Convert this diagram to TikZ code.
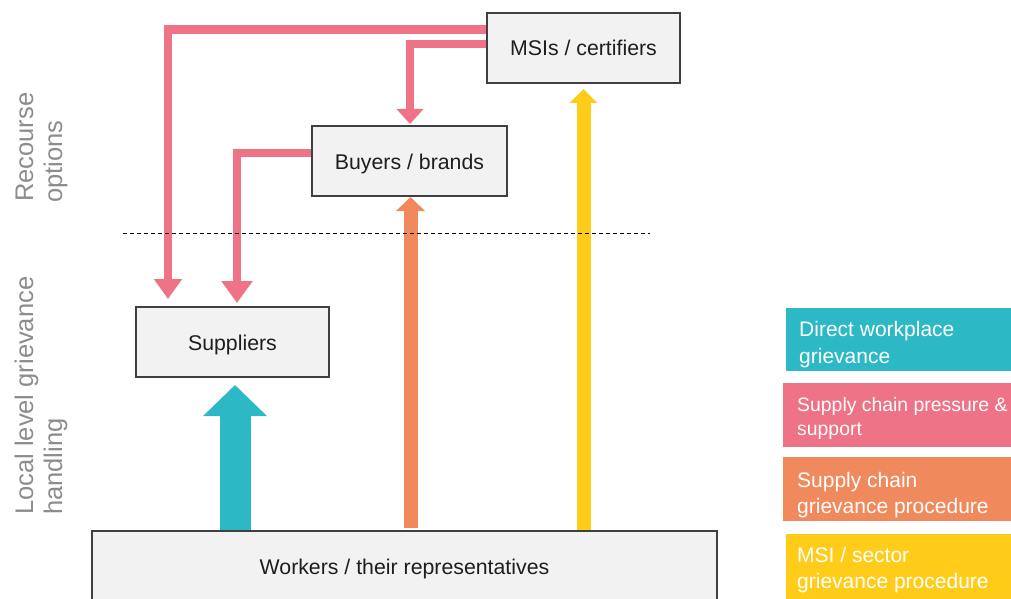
\documentclass[tikz,border=0pt]{standalone}
\usepackage{fontspec}
\setmainfont{Liberation Sans}
\usetikzlibrary{arrows.meta,calc}
\definecolor{tealc}{RGB}{44,184,197}
\definecolor{pinkc}{RGB}{238,115,135}
\definecolor{orangec}{RGB}{240,138,93}
\definecolor{yellowc}{RGB}{255,204,26}
\definecolor{boxfill}{RGB}{242,242,242}
\definecolor{boxline}{RGB}{64,64,64}
\definecolor{labgray}{RGB}{140,140,140}
\definecolor{txt}{RGB}{30,30,30}
\pgfdeclarelayer{bg}
\pgfdeclarelayer{arr}
\pgfsetlayers{bg,arr,main}
\begin{document}
\begin{tikzpicture}[x=1pt,y=-1pt,
  entity/.style={draw=boxline, line width=1.3pt, fill=boxfill, minimum width=193pt, minimum height=70pt, inner sep=0pt, text height=16pt, text depth=0pt, font=\fontsize{21.3}{25}\selectfont, text=txt},
  legbox/.style={fill=#1, draw=none, inner sep=0pt, anchor=north west},
  legtext/.style={text=white, anchor=base west, inner sep=0pt, font=\fontsize{21}{25}\selectfont},
  sidelab/.style={text=labgray, rotate=90, anchor=base west, inner sep=0pt, font=\fontsize{25.5}{30}\selectfont},
  pk/.style={draw=pinkc, line width=8.5pt},
]
\useasboundingbox (0,0) rectangle (1011,599);
\begin{pgfonlayer}{bg}
\fill[white] (0,0) rectangle (1011,599);
\end{pgfonlayer}

% boxes
\node[entity] (msi) at (583.5,48) {MSIs / certifiers};
\node[entity, minimum width=195pt] (buy) at (409.5,161) {Buyers / brands};
\node[entity] (sup) at (232.5,342) {Suppliers};
\node[entity, minimum width=625pt] (wrk) at (404.5,566) {Workers / their representatives};

% dashed separator
\coordinate (dl) at (123,233);
\coordinate (dr) at (650,233);
\draw[line width=0.9pt, dash pattern=on 4pt off 3pt] (dl) -- (dr);

% arrows
\begin{pgfonlayer}{arr}
\coordinate (p1) at (168,299);
\draw[pk, -{Triangle[width=27pt,length=20pt]}] (msi.west |- 0,29.5) -| (p1);
\coordinate (p2) at (410,124);
\draw[pk, -{Triangle[width=26pt,length=15pt]}] (msi.west |- 0,44) -| (p2);
\coordinate (p3) at (237,303);
\draw[pk, -{Triangle[width=30pt,length=22pt]}] (buy.west |- 0,153) -| (p3);
\coordinate (ob) at (410.5,528);
\coordinate (ot) at (410.5,197);
\draw[draw=orangec, line width=14pt, -{Triangle[width=28pt,length=14pt]}] (ob) -- (ot);
\coordinate (yb) at (583.5,531);
\coordinate (yt) at (583.5,89);
\draw[draw=yellowc, line width=14pt, -{Triangle[width=27pt,length=14pt]}] (yb) -- (yt);
\coordinate (tb) at (235,531);
\coordinate (tt) at (235,385);
\draw[draw=tealc, line width=31pt, -{Triangle[width=62pt,length=31pt]}] (tb) -- (tt);
\end{pgfonlayer}

% side labels
\node[sidelab] (ro1) at (33,202) {Recourse};
\node[sidelab] (ro2) at (62,203) {options};
\node[sidelab] (ll1) at (33,515) {Local level grievance};
\node[sidelab] (ll2) at (62,515) {handling};

% legend
\node[legbox=tealc, minimum width=226pt, minimum height=63pt] (lg1) at (786,308) {};
\node[legbox=pinkc, minimum width=229pt, minimum height=64pt] (lg2) at (783,383) {};
\node[legbox=orangec, minimum width=229pt, minimum height=64pt] (lg3) at (783,457) {};
\node[legbox=yellowc, minimum width=226pt, minimum height=66pt] (lg4) at (786,534) {};
\node[legtext] (lt1a) at (799,336) {Direct workplace};
\node[legtext] (lt1b) at (799,363) {grievance};
\node[legtext, font=\fontsize{19.4}{23}\selectfont] (lt2a) at (797,411) {Supply chain pressure \&};
\node[legtext, font=\fontsize{19.4}{23}\selectfont] (lt2b) at (797,435) {support};
\node[legtext] (lt3a) at (797,487) {Supply chain};
\node[legtext] (lt3b) at (797,513) {grievance procedure};
\node[legtext] (lt4a) at (797,562) {MSI / sector};
\node[legtext] (lt4b) at (797,588) {grievance procedure};
\end{tikzpicture}
\end{document}
